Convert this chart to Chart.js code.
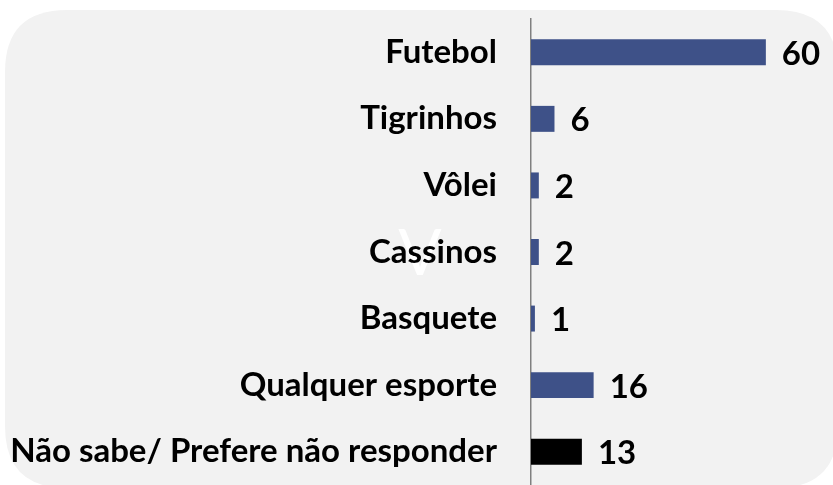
<!DOCTYPE html>
<html>
<head>
<meta charset="utf-8">
<script src="https://cdn.jsdelivr.net/npm/chart.js@4"></script>
<style>
html,body{margin:0;padding:0;background:#fff;}
#wrap{width:833px;height:485px;position:relative;}
</style>
</head>
<body>
<div id="wrap"><canvas id="c" width="833" height="485"></canvas></div>
<script>
const categories = ["Futebol","Tigrinhos","Vôlei","Cassinos","Basquete","Qualquer esporte","Não sabe/ Prefere não responder"];
const values = [60, 6, 2, 2, 1, 16, 13];
const watermark = "V";

const BAR = "#3E5188";
const OTHER = "#000000";
const FONT = "Lato, 'Open Sans', sans-serif";

const bgPlugin = {
  id: 'bg',
  beforeDraw(chart) {
    const ctx = chart.ctx;
    ctx.save();
    ctx.fillStyle = "#fff";
    ctx.fillRect(0, 0, chart.width, chart.height);
    const x = 5, y = 10, w = 833, h = 478, r = 62;
    ctx.fillStyle = "#F2F2F2";
    ctx.beginPath();
    ctx.moveTo(x + r, y);
    ctx.lineTo(x + w - r, y);
    ctx.quadraticCurveTo(x + w, y, x + w, y + r);
    ctx.lineTo(x + w, y + h - r);
    ctx.quadraticCurveTo(x + w, y + h, x + w - r, y + h);
    ctx.lineTo(x + r, y + h);
    ctx.quadraticCurveTo(x, y + h, x, y + h - r);
    ctx.lineTo(x, y + r);
    ctx.quadraticCurveTo(x, y, x + r, y);
    ctx.closePath();
    ctx.fill();
    const ys = chart.scales.y;
    ctx.fillStyle = "#FFFFFF";
    ctx.font = "64px " + FONT;
    ctx.textAlign = "center";
    ctx.textBaseline = "middle";
    ctx.fillText(watermark, 420, ys.getPixelForValue(3) + 2);
    ctx.restore();
  }
};

const valuePlugin = {
  id: 'vals',
  afterDatasetsDraw(chart) {
    const ctx = chart.ctx;
    const meta = chart.getDatasetMeta(0);
    ctx.save();
    ctx.fillStyle = "#000";
    ctx.font = "bold 33px " + FONT;
    ctx.textAlign = "left";
    ctx.textBaseline = "middle";
    meta.data.forEach((bar, i) => {
      ctx.fillText(String(values[i]), bar.x + 16, bar.y + 2);
    });
    ctx.restore();
  }
};

new Chart(document.getElementById('c'), {
  type: 'bar',
  data: {
    labels: categories,
    datasets: [{
      data: values,
      backgroundColor: (c) => c.dataIndex === categories.length - 1 ? OTHER : BAR,
      borderWidth: 0,
      barPercentage: 0.39,
      categoryPercentage: 1.0
    }]
  },
  options: {
    indexAxis: 'y',
    responsive: false,
    animation: false,
    devicePixelRatio: 1,
    layout: { padding: { top: 19, bottom: 0, left: 0, right: 28 } },
    plugins: { legend: { display: false }, tooltip: { enabled: false } },
    scales: {
      x: {
        min: 0, max: 70,
        display: false,
        grid: { display: false }
      },
      y: {
        afterFit(scale) { scale.width = 531; scale.paddingTop = 0; scale.paddingBottom = 0; },
        grid: { display: false, drawTicks: false },
        border: { display: true, color: "#808080", width: 1.5 },
        ticks: {
          color: "#000",
          padding: 34,
          font: { family: FONT, size: 33, weight: 'bold' }
        }
      }
    }
  },
  plugins: [bgPlugin, valuePlugin]
});
</script>
</body>
</html>
